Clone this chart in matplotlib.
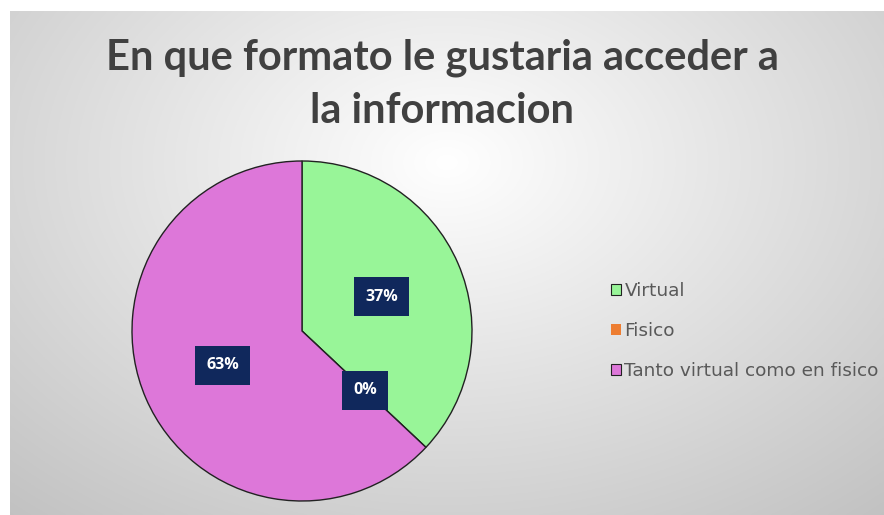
import numpy as np
import matplotlib.pyplot as plt
from matplotlib.patches import Patch

# datos del grafico
categorias = ["Virtual", "Fisico", "Tanto virtual como en fisico"]
valores = [37, 0, 63]
colores = ["#98F598", "#ED7D31", "#DD77D9"]
titulo = "En que formato le gustaria acceder a\nla informacion"

W, H = 884, 515
fig = plt.figure(figsize=(W / 100, H / 100), dpi=100)
fig.patch.set_facecolor("white")

# fondo con degradado radial (caja del grafico)
bx0, by0 = 10 / W, 0.0
bw, bh = 1 - bx0, (H - 11) / H
bg = fig.add_axes([bx0, by0, bw, bh])
yy, xx = np.mgrid[0:1:300j, 0:1:500j]
d = np.sqrt(((xx - 0.5) / 0.7) ** 2 + ((yy - 0.3) / 0.85) ** 2)
d = np.clip(d / d.max(), 0, 1)
g = 1.0 - 0.24 * d ** 1.0
bg.imshow(np.dstack([g, g, g]), extent=[0, 1, 0, 1], origin="upper", aspect="auto")
bg.set_xlim(0, 1)
bg.set_ylim(0, 1)
bg.axis("off")

# titulo
fig.text(0.5, 1 - 84 / H, titulo, ha="center", va="center", fontsize=30,
         fontweight="bold", color="#404040", family="Lato", linespacing=1.5)

# pastel
cx, cy, r = 302, 331, 170
ax = fig.add_axes([(cx - r) / W, (H - cy - r) / H, 2 * r / W, 2 * r / H])
wedges, textos, pcts = ax.pie(valores, colors=colores, startangle=90, counterclock=False,
                              autopct="%1.0f%%", pctdistance=0.51,
                              wedgeprops=dict(edgecolor="#222222", linewidth=1.0))
for t in pcts:
    t.set_color("white")
    t.set_fontsize(11.5)
    t.set_fontweight("bold")
    t.set_family("Open Sans")
    t.set_bbox(dict(boxstyle="square,pad=0.7", facecolor="#10285C", edgecolor="none"))
ax.set_xlim(-1, 1)
ax.set_ylim(-1, 1)
ax.set_aspect("equal")
ax.axis("off")

# leyenda
handles = [Patch(facecolor=colores[0], edgecolor="#222222", linewidth=0.8),
           Patch(facecolor=colores[1], edgecolor="none"),
           Patch(facecolor=colores[2], edgecolor="#222222", linewidth=0.8)]
leg = fig.legend(handles, categorias, loc="center left", bbox_to_anchor=(594 / W, 1 - 331 / H),
                 frameon=False, handlelength=0.55, handleheight=0.55,
                 handletextpad=0.2, labelspacing=1.2, prop={"family": "DejaVu Sans", "size": 13.3})
for t in leg.get_texts():
    t.set_color("#595959")

fig.savefig("out.png", dpi=100)
